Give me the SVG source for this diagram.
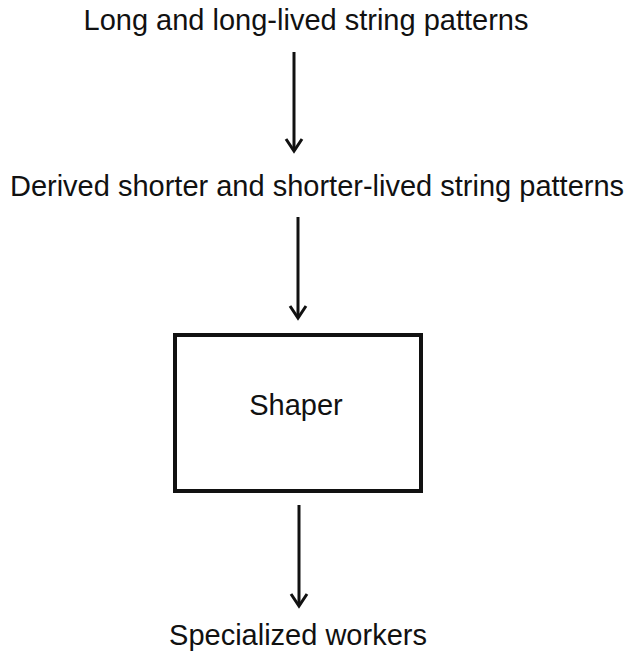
<svg xmlns="http://www.w3.org/2000/svg" width="633" height="651" viewBox="0 0 633 651">
<style>
text{font-family:"Liberation Sans",Arial,sans-serif;font-size:29px;fill:#111;text-anchor:middle}
.ln{stroke:#111;stroke-width:3;fill:none}
.hd{stroke:#111;stroke-width:3;fill:none;stroke-linejoin:miter}
</style>
<rect width="633" height="651" fill="#fff"/>
<g id="n1"><text x="306" y="30">Long and long-lived string patterns</text></g>
<g id="n2"><text x="317" y="196">Derived shorter and shorter-lived string patterns</text></g>
<g id="n3"><rect x="175" y="335" width="246" height="156" fill="#fff" stroke="#111" stroke-width="4"/><text x="296" y="415">Shaper</text></g>
<g id="n4"><text x="298" y="645">Specialized workers</text></g>
<g id="connectors">
<line class="ln" x1="294" y1="52" x2="294" y2="150"/>
<polyline class="hd" points="286,139 294,151 302,139"/>
<line class="ln" x1="298" y1="217" x2="298" y2="317"/>
<polyline class="hd" points="290,306 298,318 306,306"/>
<line class="ln" x1="299" y1="505" x2="299" y2="605"/>
<polyline class="hd" points="291,594 299,606 307,594"/>
</g>
</svg>
